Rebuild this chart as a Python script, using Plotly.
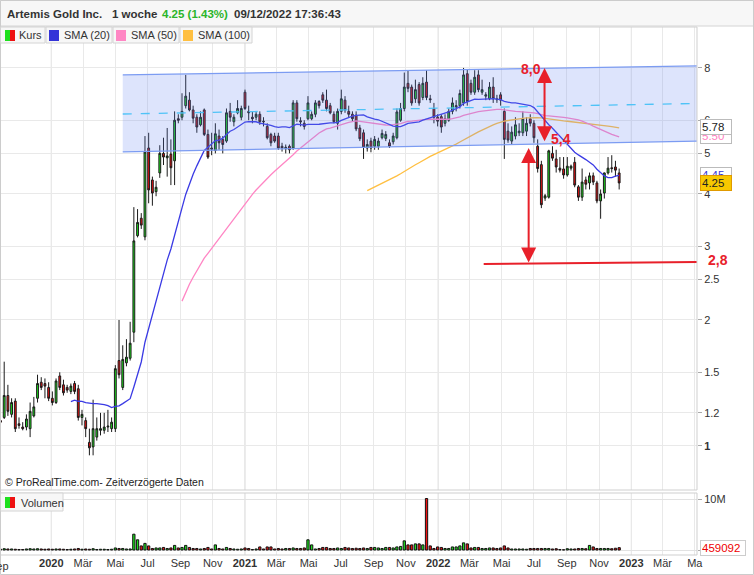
import numpy as np
import pandas as pd
import plotly.graph_objects as go

# ---------------- data (weekly bars) ----------------
week_dates = pd.date_range("2019-09-27", periods=168, freq="7D")

opens = [1.15, 1.17, 1.32, 1.19, 1.28, 1.13, 1.11, 1.11, 1.10, 1.18,
         1.30, 1.42, 1.41, 1.38, 1.30, 1.27, 1.47, 1.40, 1.38, 1.35,
         1.41, 1.37, 1.17, 1.15, 1.02, 0.995, 1.05, 1.09, 1.09, 1.11,
         1.10, 1.10, 1.60, 1.38, 1.58, 1.62, 1.87, 3.18, 3.50, 3.16,
         5.15, 4.32, 4.05, 4.49, 5.00, 4.88, 4.98, 4.80, 6.05, 6.10,
         6.50, 6.70, 6.35, 6.10, 5.85, 6.35, 5.55, 5.15, 5.08, 5.50,
         5.40, 5.35, 6.30, 5.95, 6.25, 6.10, 7.00, 6.30, 6.10, 6.10,
         6.20, 5.97, 5.80, 5.55, 5.50, 5.50, 5.20, 5.13, 5.20, 5.15,
         6.60, 5.98, 5.90, 6.05, 6.05, 6.20, 6.65, 6.90, 6.70, 6.50,
         6.20, 5.90, 6.30, 6.70, 6.30, 6.20, 6.17, 5.75, 5.60, 5.15,
         5.35, 5.20, 5.20, 5.45, 5.43, 5.30, 5.33, 5.45, 6.00, 6.40,
         7.35, 7.20, 6.75, 7.30, 6.80, 7.40, 6.75, 6.40, 6.10, 6.12,
         5.90, 6.00, 6.30, 6.45, 6.50, 6.60, 7.75, 7.35, 7.00, 7.70,
         7.00, 6.85, 6.75, 7.20, 6.75, 6.90, 6.30, 5.65, 5.35, 5.50,
         5.60, 5.60, 5.65, 6.05, 5.90, 5.20, 4.70, 3.91, 3.93, 5.00,
         4.85, 4.61, 4.59, 4.44, 4.61, 4.76, 4.16, 3.93, 4.32, 4.25,
         4.42, 4.25, 3.85, 4.02, 4.49, 4.62, 4.64, 4.49]
highs = [1.24, 1.59, 1.40, 1.30, 1.30, 1.17, 1.14, 1.19, 1.27, 1.31,
         1.48, 1.46, 1.45, 1.42, 1.35, 1.45, 1.50, 1.44, 1.40, 1.41,
         1.43, 1.40, 1.22, 1.17, 1.10, 1.29, 1.17, 1.20, 1.20, 1.22,
         1.17, 1.56, 2.00, 1.74, 1.80, 1.98, 3.72, 3.68, 3.60, 5.50,
         5.60, 4.40, 4.30, 5.23, 5.45, 5.75, 5.40, 6.30, 6.20, 6.96,
         7.70, 7.00, 6.50, 6.20, 6.30, 6.40, 5.70, 5.60, 5.90, 5.70,
         5.50, 6.40, 6.60, 6.20, 6.70, 6.50, 7.10, 6.50, 6.30, 6.30,
         6.30, 6.10, 5.90, 5.60, 5.60, 5.60, 5.30, 5.25, 5.25, 6.70,
         6.70, 6.10, 6.00, 6.85, 6.30, 6.70, 6.70, 7.00, 7.10, 6.60,
         6.30, 6.40, 7.10, 6.85, 6.50, 6.30, 6.30, 5.85, 5.70, 5.40,
         5.45, 5.50, 5.45, 5.70, 5.65, 5.40, 5.60, 6.40, 6.60, 7.80,
         7.90, 7.30, 7.50, 7.40, 7.60, 7.90, 6.90, 6.60, 6.20, 6.20,
         6.20, 6.40, 6.80, 6.70, 7.10, 8.00, 7.95, 7.50, 7.90, 7.90,
         7.50, 7.00, 7.40, 7.60, 6.90, 7.00, 6.40, 5.90, 5.80, 6.10,
         5.90, 6.30, 6.10, 6.20, 6.00, 5.40, 4.80, 4.00, 5.10, 5.20,
         5.10, 4.90, 4.90, 4.90, 4.70, 4.90, 4.20, 4.60, 4.40, 4.50,
         4.50, 4.30, 4.10, 4.50, 4.90, 4.95, 4.80, 4.60]
lows = [1.09, 1.16, 1.18, 1.17, 1.08, 1.10, 1.09, 1.09, 1.05, 1.17,
        1.27, 1.36, 1.30, 1.28, 1.25, 1.26, 1.36, 1.32, 1.34, 1.33,
        1.33, 1.15, 1.12, 1.05, 0.95, 0.95, 1.03, 1.06, 1.07, 1.08,
        1.08, 1.08, 1.45, 1.36, 1.55, 1.60, 1.77, 3.15, 3.30, 3.10,
        3.80, 3.75, 3.95, 4.37, 4.69, 4.40, 4.20, 4.20, 5.90, 6.00,
        6.40, 6.30, 5.90, 5.60, 5.80, 5.50, 4.85, 4.95, 5.00, 5.10,
        5.00, 5.30, 5.95, 5.80, 6.20, 6.00, 6.35, 6.00, 5.90, 6.00,
        5.85, 5.80, 5.40, 5.20, 5.30, 5.10, 5.05, 5.00, 5.00, 5.10,
        5.95, 5.80, 5.70, 6.00, 6.00, 6.10, 6.40, 6.60, 6.30, 6.20,
        5.90, 5.70, 6.20, 6.25, 6.10, 5.95, 5.65, 5.35, 4.85, 5.05,
        5.03, 5.10, 5.10, 5.40, 5.35, 5.15, 5.25, 5.40, 5.95, 6.30,
        7.00, 6.50, 6.60, 6.50, 6.70, 6.70, 6.60, 5.90, 5.80, 5.60,
        5.80, 5.95, 6.20, 6.30, 6.40, 6.50, 6.50, 6.90, 6.90, 7.00,
        6.90, 6.70, 6.70, 6.60, 6.60, 6.50, 4.85, 5.30, 5.25, 5.40,
        5.50, 5.50, 5.50, 5.80, 5.30, 4.50, 3.70, 3.85, 3.90, 4.80,
        4.50, 4.50, 4.35, 4.40, 4.55, 4.15, 3.85, 3.85, 4.10, 4.10,
        4.20, 3.80, 3.49, 3.90, 4.45, 4.50, 4.40, 4.10]
closes = [1.14, 1.32, 1.21, 1.27, 1.10, 1.12, 1.10, 1.16, 1.21, 1.24,
          1.41, 1.38, 1.39, 1.30, 1.27, 1.43, 1.38, 1.34, 1.36, 1.39,
          1.35, 1.17, 1.19, 1.10, 0.99, 1.10, 1.10, 1.10, 1.11, 1.115,
          1.14, 1.53, 1.48, 1.61, 1.63, 1.76, 3.09, 3.42, 3.37, 5.04,
          4.09, 4.02, 4.15, 5.00, 4.90, 4.93, 4.62, 6.00, 6.00, 6.30,
          6.85, 6.35, 6.07, 5.78, 6.10, 5.55, 4.90, 5.12, 5.57, 5.30,
          5.25, 6.25, 6.10, 6.10, 6.40, 6.40, 6.40, 6.25, 6.05, 6.20,
          5.95, 5.95, 5.45, 5.30, 5.35, 5.15, 5.15, 5.17, 5.10, 6.60,
          6.05, 5.95, 5.80, 6.60, 6.20, 6.60, 6.50, 6.70, 6.40, 6.25,
          5.95, 6.30, 6.75, 6.35, 6.20, 6.05, 5.72, 5.42, 5.17, 5.25,
          5.15, 5.40, 5.35, 5.58, 5.55, 5.20, 5.50, 6.28, 6.40, 7.20,
          7.15, 6.60, 7.10, 6.60, 7.35, 6.80, 6.72, 6.10, 5.97, 5.78,
          6.05, 6.30, 6.60, 6.50, 6.95, 7.70, 6.65, 7.00, 7.60, 7.10,
          7.10, 6.90, 7.20, 6.75, 6.72, 6.70, 5.40, 5.38, 5.62, 5.85,
          5.65, 6.05, 5.90, 5.90, 5.45, 4.60, 3.77, 3.96, 5.07, 4.87,
          4.64, 4.56, 4.44, 4.66, 4.66, 4.20, 3.93, 4.27, 4.22, 4.42,
          4.27, 3.85, 4.00, 4.49, 4.61, 4.60, 4.56, 4.25]
volume_mln = [0.15, 0.25, 0.2, 0.2, 0.15, 0.1, 0.1, 0.2, 0.25, 0.2, 0.25, 0.2,
              0.15, 0.2, 0.15, 0.2, 0.2, 0.15, 0.1, 0.15, 0.2, 0.3, 0.15, 0.2,
              0.15, 0.25, 0.1, 0.15, 0.15, 0.1, 0.15, 0.4, 0.3, 0.3, 0.2, 0.2,
              3.1, 2.0, 0.8, 1.3, 0.8, 0.3, 0.4, 0.4, 0.5, 0.3, 0.4, 0.9,
              0.4, 0.5, 0.9, 0.5, 0.3, 0.3, 0.2, 0.3, 0.5, 0.2, 1.0, 0.3,
              0.2, 0.5, 0.3, 0.2, 0.15, 0.2, 0.4, 0.3, 0.1, 0.2, 0.6, 0.2,
              0.6, 0.6, 0.2, 0.3, 0.2, 0.3, 0.3, 0.4, 0.3, 0.3, 0.4, 2.0,
              1.0, 0.2, 0.3, 0.5, 0.5, 0.3, 0.3, 0.4, 0.3, 0.5, 0.4, 0.3,
              0.35, 0.3, 0.4, 0.3, 0.5, 0.5, 0.4, 0.3, 0.5, 0.5, 0.4, 0.6,
              0.7, 1.8, 1.0, 1.0, 1.2, 1.2, 1.0, 10.1, 0.8, 0.3, 0.6, 0.5,
              0.3, 0.3, 0.6, 0.6, 0.8, 1.4, 1.2, 0.4, 0.5, 0.5, 0.3, 0.3,
              0.4, 0.4, 0.3, 0.4, 0.8, 0.4, 0.2, 0.2, 0.2, 0.2, 0.15, 0.3,
              0.3, 0.3, 0.3, 0.3, 0.3, 0.2, 0.25, 0.1, 0.05, 0.25, 0.2, 0.2,
              0.3, 0.3, 0.25, 0.9, 0.6, 0.3, 0.3, 0.3, 0.3, 0.25, 0.35, 0.459092]

last_volume = 459092
right_labels = [("5.50", 5.50, "#ff7fbf"), ("5.78", 5.78, "#222222"),
                ("4.45", 4.45, "#3434d8")]
last_price = 4.25

price_ticks = [1, 1.2, 1.5, 2, 2.5, 3, 4, 5, 6, 8]
price_tick_text = ["<b>1</b>", "1.2", "1.5", "2", "2.5", "3", "4", "5", "6", "8"]

month_ticks = ["2020-01-01", "2020-03-01", "2020-05-01", "2020-07-01", "2020-09-01",
               "2020-11-01", "2021-01-01", "2021-03-01", "2021-05-01", "2021-07-01",
               "2021-09-01", "2021-11-01", "2022-01-01", "2022-03-01", "2022-05-01",
               "2022-07-01", "2022-09-01", "2022-11-01", "2023-01-01", "2023-03-01",
               "2023-05-01"]
month_text = ["<b>2020</b>", "Mär", "Mai", "Jul", "Sep", "Nov",
              "<b>2021</b>", "Mär", "Mai", "Jul", "Sep", "Nov",
              "<b>2022</b>", "Mär", "Mai", "Jul", "Sep", "Nov",
              "<b>2023</b>", "Mär", "Ma"]
year_lines = ["2020-01-01", "2021-01-01", "2022-01-01", "2023-01-01"]

channel_dates = ["2020-05-15", "2023-05-05"]
channel_top = [7.70, 8.09]
channel_mid = [6.21, 6.58]
channel_bottom = [5.04, 5.35]

support_dates = ["2022-03-28", "2023-05-05"]
support_values = [2.72, 2.75]
arrow1 = ("2022-07-21", 8.0, 5.30)
arrow2 = ("2022-06-21", 5.15, 2.72)
label_80 = ("2022-06-25", 7.95, "8,0")
label_54 = ("2022-08-21", 5.40, "5,4")

x_range = ["2019-09-26 02:00", "2023-05-05 02:00"]

# ---------------- geometry helpers ----------------
W, H = 754, 575
ML, MR, MT, MB = 0, 57, 27, 20
PW, PH = W - ML - MR, H - MT - MB


def px_x(p):
    return (p - ML) / PW


def px_y(p):
    return (H - MB - p) / PH


RED = "#e8202a"
FONT = "Liberation Sans, Arial, sans-serif"

closes_s = pd.Series(closes)
sma20 = closes_s.rolling(20).mean()
sma50 = closes_s.rolling(50).mean()
sma100 = closes_s.rolling(100).mean()

vol_colors = ["#1ee01e" if c >= o else "#ee1111" for o, c in zip(opens, closes)]

fig = go.Figure()

fig.add_trace(go.Candlestick(
    x=week_dates, open=opens, high=highs, low=lows, close=closes,
    increasing=dict(line=dict(color="#1a1a1a", width=1), fillcolor="#1ee01e"),
    decreasing=dict(line=dict(color="#1a1a1a", width=1), fillcolor="#ee1111"),
    whiskerwidth=0, hoverinfo="skip", showlegend=False, xaxis="x", yaxis="y"))

for s, col in [(sma100, "#ffbf40"), (sma50, "#ff86c4"), (sma20, "#3a3ae4")]:
    fig.add_trace(go.Scatter(x=week_dates, y=s, mode="lines",
                             line=dict(color=col, width=1.3),
                             hoverinfo="skip", showlegend=False, xaxis="x", yaxis="y"))

# channel overlay (drawn above candles)
fig.add_trace(go.Scatter(
    x=[channel_dates[0], channel_dates[1], channel_dates[1], channel_dates[0], channel_dates[0]],
    y=[channel_top[0], channel_top[1], channel_bottom[1], channel_bottom[0], channel_top[0]],
    fill="toself", fillcolor="rgba(100,130,240,0.22)", mode="lines",
    line=dict(width=0, color="rgba(0,0,0,0)"), hoverinfo="skip", showlegend=False,
    xaxis="x", yaxis="y"))
for yy in (channel_top, channel_bottom):
    fig.add_trace(go.Scatter(x=channel_dates, y=yy, mode="lines",
                             line=dict(color="#7c9cf2", width=1.3),
                             hoverinfo="skip", showlegend=False, xaxis="x", yaxis="y"))
fig.add_trace(go.Scatter(x=channel_dates, y=channel_mid, mode="lines",
                         line=dict(color="#4fc3f7", width=1.3, dash="dash"),
                         hoverinfo="skip", showlegend=False, xaxis="x", yaxis="y"))

fig.add_trace(go.Scatter(x=support_dates, y=support_values, mode="lines",
                         line=dict(color=RED, width=2),
                         hoverinfo="skip", showlegend=False, xaxis="x", yaxis="y"))

fig.add_trace(go.Bar(x=week_dates, y=[v * 1e6 for v in volume_mln],
                     marker=dict(color=vol_colors, line=dict(color="#111111", width=1)),
                     width=4.3 * 86400000, hoverinfo="skip", showlegend=False,
                     xaxis="x", yaxis="y2"))

# y ranges derived from pixel mapping of the reference
main_lo, main_hi = np.log10(0.785), np.log10(10.02)
vol_lo, vol_hi = -0.98e6, 11.18e6

shapes = []
annotations = []

# year grid lines slightly darker
for d in year_lines:
    for yref in ("y domain", "y2 domain"):
        shapes.append(dict(type="line", xref="x", yref=yref, x0=d, x1=d, y0=0, y1=1,
                           line=dict(color="#d9d9d9", width=1), layer="below"))

# panel borders
shapes.append(dict(type="rect", xref="paper", yref="paper", x0=px_x(0.5), x1=px_x(697),
                   y0=px_y(490), y1=px_y(27), line=dict(color="#cfcfcf", width=1)))
shapes.append(dict(type="rect", xref="paper", yref="paper", x0=px_x(0.5), x1=px_x(697),
                   y0=px_y(555), y1=px_y(493), line=dict(color="#cfcfcf", width=1)))

# title bar
shapes.append(dict(type="rect", xref="paper", yref="paper", x0=px_x(0.5), x1=px_x(753.5),
                   y0=px_y(26), y1=px_y(0.5), fillcolor="#f7f7f7",
                   line=dict(color="#d4d4d4", width=1), layer="above"))
# outer frame
shapes.append(dict(type="rect", xref="paper", yref="paper", x0=px_x(0.5), x1=px_x(753.5),
                   y0=px_y(574.5), y1=px_y(0.5), line=dict(color="#cccccc", width=1),
                   layer="above"))

title_parts = [
    (5, "<b>Artemis Gold Inc.</b>", "#333333"),
    (110, "<b>1 woche</b>", "#333333"),
    (160, "<b>4.25 (1.43%)</b>", "#2ab52a"),
    (232, "<b>09/12/2022 17:36:43</b>", "#333333"),
]
for xp, t, c in title_parts:
    annotations.append(dict(xref="paper", yref="paper", x=px_x(xp), y=px_y(14),
                            xanchor="left", yanchor="middle", showarrow=False, text=t,
                            font=dict(family=FONT, size=11.5, color=c)))

# legend row
legend_boxes = [
    (0.5, 45, None, "Kurs"),
    (46, 112, "#3434d8", "SMA (20)"),
    (113, 179, "#ff86c4", "SMA (50)"),
    (180, 252, "#ffbf40", "SMA (100)"),
]
for x0, x1, col, txt in legend_boxes:
    shapes.append(dict(type="rect", xref="paper", yref="paper", x0=px_x(x0), x1=px_x(x1),
                       y0=px_y(43), y1=px_y(27), fillcolor="#f7f7f7",
                       line=dict(color="#d4d4d4", width=1), layer="above"))
    if col is None:
        shapes.append(dict(type="rect", xref="paper", yref="paper", x0=px_x(x0 + 4.5),
                           x1=px_x(x0 + 9.5), y0=px_y(41), y1=px_y(30),
                           fillcolor="#1ee01e", line=dict(width=0), layer="above"))
        shapes.append(dict(type="rect", xref="paper", yref="paper", x0=px_x(x0 + 9.5),
                           x1=px_x(x0 + 14.5), y0=px_y(41), y1=px_y(30),
                           fillcolor="#ee1111", line=dict(width=0), layer="above"))
    else:
        shapes.append(dict(type="rect", xref="paper", yref="paper", x0=px_x(x0 + 3),
                           x1=px_x(x0 + 13), y0=px_y(41), y1=px_y(30),
                           fillcolor=col, line=dict(width=0), layer="above"))
    annotations.append(dict(xref="paper", yref="paper", x=px_x(x0 + 16), y=px_y(35),
                            xanchor="left", yanchor="middle", showarrow=False, text=txt,
                            font=dict(family=FONT, size=11, color="#333333")))

# volume legend
shapes.append(dict(type="rect", xref="paper", yref="paper", x0=px_x(0.5), x1=px_x(63),
                   y0=px_y(511), y1=px_y(493), fillcolor="#f7f7f7",
                   line=dict(color="#d4d4d4", width=1), layer="above"))
shapes.append(dict(type="rect", xref="paper", yref="paper", x0=px_x(5), x1=px_x(10),
                   y0=px_y(508), y1=px_y(497), fillcolor="#1ee01e", line=dict(width=0),
                   layer="above"))
shapes.append(dict(type="rect", xref="paper", yref="paper", x0=px_x(10), x1=px_x(15),
                   y0=px_y(508), y1=px_y(497), fillcolor="#ee1111", line=dict(width=0),
                   layer="above"))
annotations.append(dict(xref="paper", yref="paper", x=px_x(19), y=px_y(502.5),
                        xanchor="left", yanchor="middle", showarrow=False, text="Volumen",
                        font=dict(family=FONT, size=11, color="#333333")))

# copyright
annotations.append(dict(xref="paper", yref="paper", x=px_x(3), y=px_y(482),
                        xanchor="left", yanchor="middle", showarrow=False,
                        text="© ProRealTime.com- Zeitverzögerte Daten",
                        font=dict(family=FONT, size=10.5, color="#222222")))

# clipped first month label
annotations.append(dict(xref="paper", yref="paper", x=px_x(10.5), y=px_y(566),
                        xanchor="right", yanchor="middle", showarrow=False, text="Sep",
                        font=dict(family=FONT, size=11, color="#333333")))

# right-side value boxes
for txt, val, col in right_labels:
    annotations.append(dict(xref="paper", yref="y", x=px_x(700), y=np.log10(val),
                            xanchor="left", yanchor="middle", showarrow=False, text=txt,
                            font=dict(family=FONT, size=11.5, color=col), align="left",
                            bgcolor="white", bordercolor="#bbbbbb", borderwidth=1,
                            borderpad=1, width=28))
annotations.append(dict(xref="paper", yref="y", x=px_x(700), y=np.log10(last_price),
                        xanchor="left", yanchor="middle", showarrow=False,
                        text=f"{last_price:.2f}", align="left",
                        font=dict(family=FONT, size=11.5, color="#222222"),
                        bgcolor="#f8c800", bordercolor="#e09a00", borderwidth=1,
                        borderpad=1, width=28))
annotations.append(dict(xref="paper", yref="y2", x=px_x(700), y=last_volume,
                        xanchor="left", yanchor="middle", showarrow=False,
                        text=str(last_volume), align="left",
                        font=dict(family=FONT, size=11.5, color="#ee0000"),
                        bgcolor="white", bordercolor="#cccccc", borderwidth=1,
                        borderpad=1, width=42))

# red arrows and labels
for d, ytop, ybot in (arrow1, arrow2):
    annotations.append(dict(xref="x", yref="y", axref="x", ayref="y",
                            x=d, y=np.log10(ytop), ax=d, ay=np.log10(ybot),
                            showarrow=True, arrowside="end+start", arrowhead=2,
                            arrowsize=1.5, arrowwidth=2, arrowcolor=RED, text="",
                            standoff=0, startstandoff=0))
for d, v, t in (label_80, label_54):
    annotations.append(dict(xref="x", yref="y", x=d, y=np.log10(v), showarrow=False,
                            text=f"<b>{t}</b>", font=dict(family=FONT, size=14, color=RED),
                            xanchor="center", yanchor="middle"))
annotations.append(dict(xref="paper", yref="y", x=px_x(706), y=np.log10(2.78),
                        showarrow=False, text="<b>2,8</b>", xanchor="left", yanchor="middle",
                        font=dict(family=FONT, size=14, color=RED)))

fig.update_layout(
    width=W, height=H,
    margin=dict(l=ML, r=MR, t=MT, b=MB, pad=0),
    paper_bgcolor="white", plot_bgcolor="white",
    showlegend=False, hovermode=False,
    font=dict(family=FONT, size=11, color="#333333"),
    boxgap=0.3,
    xaxis=dict(type="date", range=x_range, anchor="y2",
               tickvals=month_ticks, ticktext=month_text, ticks="",
               showgrid=True, gridcolor="#e9e9e9", gridwidth=1,
               showline=False, zeroline=False,
               tickfont=dict(family=FONT, size=11, color="#333333"),
               rangeslider=dict(visible=False), fixedrange=True),
    yaxis=dict(type="log", domain=[px_y(490), 1.0], range=[main_lo, main_hi],
               anchor="x", side="right", tickvals=price_ticks, ticktext=price_tick_text,
               showgrid=True, gridcolor="#e9e9e9", ticks="outside", ticklen=4,
               tickcolor="#aaaaaa", showline=False, zeroline=False,
               tickfont=dict(family=FONT, size=11, color="#333333")),
    yaxis2=dict(domain=[0.0, px_y(493)], range=[vol_lo, vol_hi], anchor="x",
                side="right", tickvals=[0, 1e7], ticktext=["", "10M"],
                showgrid=True, gridcolor="#e2e2e2", ticks="outside", ticklen=4,
                tickcolor="#aaaaaa", showline=False, zeroline=False,
                tickfont=dict(family=FONT, size=11, color="#333333")),
    shapes=shapes,
    annotations=annotations,
)

fig.write_html(
    "out.html",
    config={"displayModeBar": False, "staticPlot": True},
    post_script="document.body.style.margin='0';document.body.style.overflow='hidden';"
                "document.documentElement.style.overflow='hidden';",
)
